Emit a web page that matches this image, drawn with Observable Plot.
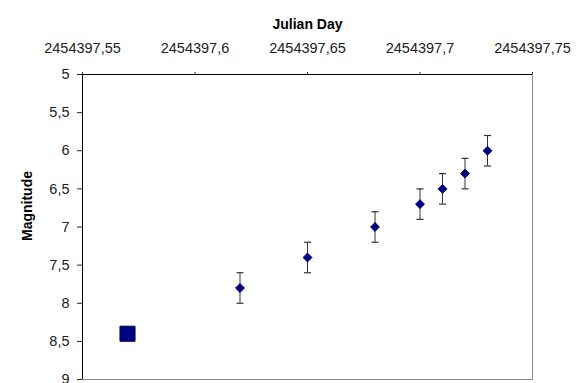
<!DOCTYPE html>
<html>
<head>
<meta charset="utf-8">
<script src="https://cdn.jsdelivr.net/npm/d3@7"></script>
<script src="https://cdn.jsdelivr.net/npm/@observablehq/plot@0.6"></script>
<style>
  html, body { margin: 0; padding: 0; background: #fff; }
  svg { display: block; }
</style>
</head>
<body>
<div id="chart"></div>
<script>
// Julian Day and magnitude values
const squareDays = [2454397.57];
const squareMags = [8.4];

const diamondDays = [2454397.62, 2454397.65, 2454397.68, 2454397.70, 2454397.71, 2454397.72, 2454397.73];
const diamondMags = [7.8, 7.4, 7.0, 6.7, 6.5, 6.3, 6.0];
const diamondErrs = [0.2, 0.2, 0.2, 0.2, 0.2, 0.2, 0.2];

const xTicks = [2454397.55, 2454397.60, 2454397.65, 2454397.70, 2454397.75];
const yTicks = [5, 5.5, 6, 6.5, 7, 7.5, 8, 8.5, 9];

const xTitle = "Julian Day";
const yTitle = "Magnitude";

const squares = squareDays.map((d, i) => ({day: d, mag: squareMags[i]}));
const diamonds = diamondDays.map((d, i) => ({
  day: d, mag: diamondMags[i],
  lo: diamondMags[i] - diamondErrs[i], hi: diamondMags[i] + diamondErrs[i]
}));

const xFmt = v => d3.format(".2~f")(v).replace(".", ",");
const yFmt = v => d3.format(".1~f")(v).replace(".", ",");

const cap = { draw(ctx) { ctx.moveTo(-3.5, 0); ctx.lineTo(3.5, 0); } };

const chart = Plot.plot({
  width: 578,
  height: 383,
  marginLeft: 82,
  marginRight: 46,
  marginTop: 74,
  marginBottom: 4,
  style: { fontFamily: "Liberation Sans, Arial, sans-serif", fontSize: "14.5px", color: "#222", background: "#fff" },
  x: {
    domain: [xTicks[0], xTicks[xTicks.length - 1]],
    axis: "top", ticks: xTicks, tickFormat: xFmt, tickSize: 3, tickPadding: 19, label: null
  },
  y: {
    domain: [yTicks[0], yTicks[yTicks.length - 1]], reverse: true,
    ticks: yTicks, tickFormat: yFmt, tickSize: 5, tickPadding: 8, label: null
  },
  marks: [
    Plot.frame({ stroke: "#8c8c8c" }),
    Plot.ruleY([yTicks[0]], { stroke: "#000" }),
    Plot.ruleX([xTicks[0]], { stroke: "#000" }),
    Plot.ruleX(diamonds, { x: "day", y1: "lo", y2: "hi", stroke: "#333", strokeWidth: 1 }),
    Plot.dot(diamonds, { x: "day", y: "lo", symbol: cap, stroke: "#333", strokeWidth: 1.2 }),
    Plot.dot(diamonds, { x: "day", y: "hi", symbol: cap, stroke: "#333", strokeWidth: 1.2 }),
    Plot.dot(diamonds, { x: "day", y: "mag", symbol: "diamond2", r: 4, fill: "#000080", stroke: "#000080", strokeWidth: 1 }),
    Plot.dot(squares, { x: "day", y: "mag", symbol: "square", r: 8.5, fill: "#000080", stroke: "#000060", strokeWidth: 1 }),
    Plot.text([xTitle], { frameAnchor: "top", dy: -55, fontWeight: "bold", fontSize: 14, fill: "#000" }),
    Plot.text([yTitle], { frameAnchor: "left", dx: -55, dy: 14, rotate: -90, fontWeight: "bold", fontSize: 14, fill: "#000" })
  ]
});

document.getElementById("chart").append(chart);
</script>
</body>
</html>
